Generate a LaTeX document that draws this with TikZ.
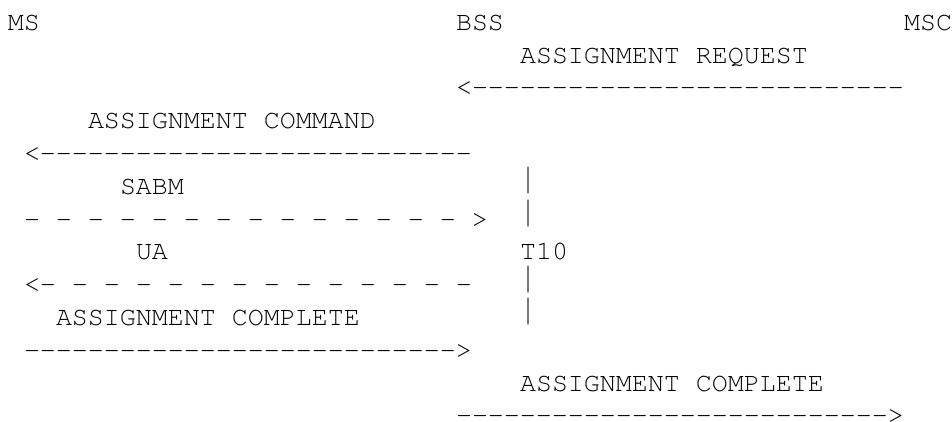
\documentclass[tikz,border=0pt]{standalone}
\usepackage[T1]{fontenc}
\usepackage{graphicx}
\ExplSyntaxOn
\cs_new:Npn \myrep #1#2 { \prg_replicate:nn {#1} {#2} }
\ExplSyntaxOff
\newcommand\tallbar{\raisebox{4.6pt}{\scalebox{1}[1.4]{|}}}
\begin{document}
\begin{tikzpicture}[x=1pt,y=1pt,
  txt/.style={anchor=base west, inner sep=0pt, outer sep=0pt,
    font=\fontfamily{pcr}\fontseries{m}\fontshape{n}\fontsize{26.66pt}{32.8pt}\selectfont}]
\useasboundingbox (0,0) rectangle (952,-421);
% column c -> x = 8 + 16 c ; row r -> baseline y = -(30.2 + 32.8 r)
\node[txt] (ms)   at ({8+16*0},{-30.2-32.8*0}) {MS};
\node[txt] (bss)  at ({8+16*28},{-30.2-32.8*0}) {BSS};
\node[txt] (msc)  at ({8+16*56},{-30.2-32.8*0}) {MSC};
\node[txt] (areq) at ({8+16*32},{-30.2-32.8*1}) {ASSIGNMENT REQUEST};
\node[txt] (a1)   at ({8+16*28},{-30.2-32.8*2}) {<\myrep{27}{-{}}};
\node[txt] (acmd) at ({8+16*5},{-30.2-32.8*3}) {ASSIGNMENT COMMAND};
\node[txt] (a2)   at ({8+16*1},{-30.2-32.8*4}) {<\myrep{27}{-{}}};
\node[txt] (sabm) at ({8+16*7},{-30.2-32.8*5}) {SABM};
\node[txt] (b1)   at ({8+16*32},{-30.2-32.8*5}) {\tallbar};
\node[txt] (a3)   at ({8+16*1},{-30.2-32.8*6}) {\myrep{14}{-{} }>};
\node[txt] (b2)   at ({8+16*32},{-30.2-32.8*6}) {\tallbar};
\node[txt] (ua)   at ({8+16*8},{-30.2-32.8*7}) {UA};
\node[txt] (t10)  at ({8+16*32},{-30.2-32.8*7}) {T10};
\node[txt] (a4)   at ({8+16*1},{-30.2-32.8*8}) {<-{}\myrep{13}{ -{}}};
\node[txt] (b3)   at ({8+16*32},{-30.2-32.8*8}) {\tallbar};
\node[txt] (acp1) at ({8+16*3},{-30.2-32.8*9}) {ASSIGNMENT COMPLETE};
\node[txt] (b4)   at ({8+16*32},{-30.2-32.8*9}) {\tallbar};
\node[txt] (a5)   at ({8+16*1},{-30.2-32.8*10}) {\myrep{27}{-{}}>};
\node[txt] (acp2) at ({8+16*32},{-30.2-32.8*11}) {ASSIGNMENT COMPLETE};
\node[txt] (a6)   at ({8+16*28},{-30.2-32.8*12}) {\myrep{27}{-{}}>};
\end{tikzpicture}
\end{document}
